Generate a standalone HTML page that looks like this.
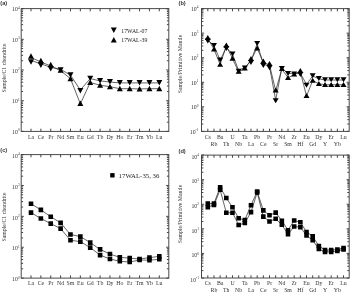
<!DOCTYPE html>
<html><head><meta charset="utf-8"><style>html,body{margin:0;padding:0;background:#fff;width:350px;height:293px;overflow:hidden}svg{display:block}</style></head>
<body>
<svg width="350" height="293" viewBox="0 0 350 293">
<style>.t{font-family:"Liberation Serif", serif;font-size:5.8px;fill:#333}.s{font-size:3.4px}.L{font-family:"Liberation Sans",sans-serif;font-size:5.7px;font-weight:bold;fill:#333}.g{font-family:"Liberation Serif", serif;font-size:5.8px;fill:#222}</style>
<rect width="350" height="293" fill="#fff"/>
<defs><filter id="bl" x="0" y="0" width="1" height="1"><feGaussianBlur stdDeviation="0.55"/></filter></defs><g filter="url(#bl)">
<rect x="21.2" y="8.6" width="147.60000000000002" height="122.80000000000001" fill="none" stroke="#4a4a4a" stroke-width="1.0"/>
<path d="M31.00 8.6v2.7M31.00 131.4v-2.7M40.87 8.6v2.7M40.87 131.4v-2.7M50.74 8.6v2.7M50.74 131.4v-2.7M60.61 8.6v2.7M60.61 131.4v-2.7M70.48 8.6v2.7M70.48 131.4v-2.7M80.35 8.6v2.7M80.35 131.4v-2.7M90.22 8.6v2.7M90.22 131.4v-2.7M100.09 8.6v2.7M100.09 131.4v-2.7M109.96 8.6v2.7M109.96 131.4v-2.7M119.83 8.6v2.7M119.83 131.4v-2.7M129.70 8.6v2.7M129.70 131.4v-2.7M139.57 8.6v2.7M139.57 131.4v-2.7M149.44 8.6v2.7M149.44 131.4v-2.7M159.31 8.6v2.7M159.31 131.4v-2.7M21.2 131.40h2.6M168.8 131.40h-2.6M21.2 122.16h1.9M168.8 122.16h-1.9M21.2 116.75h1.9M168.8 116.75h-1.9M21.2 112.92h1.9M168.8 112.92h-1.9M21.2 109.94h1.9M168.8 109.94h-1.9M21.2 107.51h1.9M168.8 107.51h-1.9M21.2 105.46h1.9M168.8 105.46h-1.9M21.2 103.68h1.9M168.8 103.68h-1.9M21.2 102.10h1.9M168.8 102.10h-1.9M21.2 100.70h2.6M168.8 100.70h-2.6M21.2 91.46h1.9M168.8 91.46h-1.9M21.2 86.05h1.9M168.8 86.05h-1.9M21.2 82.22h1.9M168.8 82.22h-1.9M21.2 79.24h1.9M168.8 79.24h-1.9M21.2 76.81h1.9M168.8 76.81h-1.9M21.2 74.76h1.9M168.8 74.76h-1.9M21.2 72.98h1.9M168.8 72.98h-1.9M21.2 71.40h1.9M168.8 71.40h-1.9M21.2 70.00h2.6M168.8 70.00h-2.6M21.2 60.76h1.9M168.8 60.76h-1.9M21.2 55.35h1.9M168.8 55.35h-1.9M21.2 51.52h1.9M168.8 51.52h-1.9M21.2 48.54h1.9M168.8 48.54h-1.9M21.2 46.11h1.9M168.8 46.11h-1.9M21.2 44.06h1.9M168.8 44.06h-1.9M21.2 42.28h1.9M168.8 42.28h-1.9M21.2 40.70h1.9M168.8 40.70h-1.9M21.2 39.30h2.6M168.8 39.30h-2.6M21.2 30.06h1.9M168.8 30.06h-1.9M21.2 24.65h1.9M168.8 24.65h-1.9M21.2 20.82h1.9M168.8 20.82h-1.9M21.2 17.84h1.9M168.8 17.84h-1.9M21.2 15.41h1.9M168.8 15.41h-1.9M21.2 13.36h1.9M168.8 13.36h-1.9M21.2 11.58h1.9M168.8 11.58h-1.9M21.2 10.00h1.9M168.8 10.00h-1.9M21.2 8.60h2.6M168.8 8.60h-2.6" stroke="#444" stroke-width="1.0" fill="none"/>
<text x="19.599999999999998" y="134.00" text-anchor="end" class="t">10<tspan class="s" dy="-2.7">0</tspan></text>
<text x="19.599999999999998" y="103.30" text-anchor="end" class="t">10<tspan class="s" dy="-2.7">1</tspan></text>
<text x="19.599999999999998" y="72.60" text-anchor="end" class="t">10<tspan class="s" dy="-2.7">2</tspan></text>
<text x="19.599999999999998" y="41.90" text-anchor="end" class="t">10<tspan class="s" dy="-2.7">3</tspan></text>
<text x="19.599999999999998" y="11.20" text-anchor="end" class="t">10<tspan class="s" dy="-2.7">4</tspan></text>
<text x="31.00" y="138.60" text-anchor="middle" class="t">La</text>
<text x="40.87" y="138.60" text-anchor="middle" class="t">Ce</text>
<text x="50.74" y="138.60" text-anchor="middle" class="t">Pr</text>
<text x="60.61" y="138.60" text-anchor="middle" class="t">Nd</text>
<text x="70.48" y="138.60" text-anchor="middle" class="t">Sm</text>
<text x="80.35" y="138.60" text-anchor="middle" class="t">Eu</text>
<text x="90.22" y="138.60" text-anchor="middle" class="t">Gd</text>
<text x="100.09" y="138.60" text-anchor="middle" class="t">Tb</text>
<text x="109.96" y="138.60" text-anchor="middle" class="t">Dy</text>
<text x="119.83" y="138.60" text-anchor="middle" class="t">Ho</text>
<text x="129.70" y="138.60" text-anchor="middle" class="t">Er</text>
<text x="139.57" y="138.60" text-anchor="middle" class="t">Tm</text>
<text x="149.44" y="138.60" text-anchor="middle" class="t">Yb</text>
<text x="159.31" y="138.60" text-anchor="middle" class="t">Lu</text>
<text transform="translate(6.0,68) rotate(-90)" text-anchor="middle" class="t">Sample/C1 chondrite</text>
<text x="0.3" y="5.2" class="L">(a)</text>
<polyline points="31.00,60.50 40.87,63.80 50.74,67.35 60.61,69.30 70.48,75.20 80.35,90.00 90.22,78.60 100.09,80.90 109.96,82.00 119.83,82.90 129.70,82.90 139.57,82.90 149.44,82.90 159.31,82.90" fill="none" stroke="#222" stroke-width="0.7"/>
<polyline points="31.00,57.50 40.87,62.00 50.74,65.95 60.61,70.70 70.48,78.70 80.35,103.90 90.22,82.50 100.09,85.20 109.96,86.70 119.83,88.70 129.70,88.70 139.57,88.90 149.44,88.70 159.31,88.70" fill="none" stroke="#222" stroke-width="0.7"/>
<path d="M28.00 59.30L31.00 64.70L34.00 59.30ZM37.87 62.60L40.87 68.00L43.87 62.60ZM47.74 66.10L50.74 71.50L53.74 66.10ZM57.61 67.30L60.61 72.70L63.61 67.30ZM67.48 72.30L70.48 77.70L73.48 72.30ZM77.35 88.00L80.35 93.40L83.35 88.00ZM87.22 75.70L90.22 81.10L93.22 75.70ZM97.09 78.00L100.09 83.40L103.09 78.00ZM106.96 79.10L109.96 84.50L112.96 79.10ZM116.83 80.00L119.83 85.40L122.83 80.00ZM126.70 80.00L129.70 85.40L132.70 80.00ZM136.57 80.00L139.57 85.40L142.57 80.00ZM146.44 80.00L149.44 85.40L152.44 80.00ZM156.31 80.00L159.31 85.40L162.31 80.00Z" fill="#000"/>
<path d="M28.00 58.70L31.00 53.30L34.00 58.70ZM37.87 63.20L40.87 57.80L43.87 63.20ZM47.74 67.20L50.74 61.80L53.74 67.20ZM57.61 72.70L60.61 67.30L63.61 72.70ZM67.48 81.20L70.48 75.80L73.48 81.20ZM77.35 105.90L80.35 100.50L83.35 105.90ZM87.22 85.00L90.22 79.60L93.22 85.00ZM97.09 87.70L100.09 82.30L103.09 87.70ZM106.96 89.20L109.96 83.80L112.96 89.20ZM116.83 91.20L119.83 85.80L122.83 91.20ZM126.70 91.20L129.70 85.80L132.70 91.20ZM136.57 91.40L139.57 86.00L142.57 91.40ZM146.44 91.20L149.44 85.80L152.44 91.20ZM156.31 91.20L159.31 85.80L162.31 91.20Z" fill="#000"/>
<path d="M110.80 27.60L113.80 33.00L116.80 27.60ZM110.80 42.50L113.80 37.10L116.80 42.50Z" fill="#000"/>
<text x="121.3" y="32.7" class="g">17WAL-07</text>
<text x="121.3" y="42.2" class="g">17WAL-39</text>
<rect x="201.5" y="8.6" width="147.7" height="122.80000000000001" fill="none" stroke="#4a4a4a" stroke-width="1.0"/>
<path d="M207.80 8.6v2.7M207.80 131.4v-2.7M213.97 8.6v2.7M213.97 131.4v-2.7M220.14 8.6v2.7M220.14 131.4v-2.7M226.31 8.6v2.7M226.31 131.4v-2.7M232.48 8.6v2.7M232.48 131.4v-2.7M238.65 8.6v2.7M238.65 131.4v-2.7M244.82 8.6v2.7M244.82 131.4v-2.7M250.99 8.6v2.7M250.99 131.4v-2.7M257.16 8.6v2.7M257.16 131.4v-2.7M263.33 8.6v2.7M263.33 131.4v-2.7M269.50 8.6v2.7M269.50 131.4v-2.7M275.67 8.6v2.7M275.67 131.4v-2.7M281.84 8.6v2.7M281.84 131.4v-2.7M288.01 8.6v2.7M288.01 131.4v-2.7M294.18 8.6v2.7M294.18 131.4v-2.7M300.35 8.6v2.7M300.35 131.4v-2.7M306.52 8.6v2.7M306.52 131.4v-2.7M312.69 8.6v2.7M312.69 131.4v-2.7M318.86 8.6v2.7M318.86 131.4v-2.7M325.03 8.6v2.7M325.03 131.4v-2.7M331.20 8.6v2.7M331.20 131.4v-2.7M337.37 8.6v2.7M337.37 131.4v-2.7M343.54 8.6v2.7M343.54 131.4v-2.7M201.5 131.40h2.6M349.2 131.40h-2.6M201.5 124.01h1.9M349.2 124.01h-1.9M201.5 119.68h1.9M349.2 119.68h-1.9M201.5 116.61h1.9M349.2 116.61h-1.9M201.5 114.23h1.9M349.2 114.23h-1.9M201.5 112.29h1.9M349.2 112.29h-1.9M201.5 110.64h1.9M349.2 110.64h-1.9M201.5 109.22h1.9M349.2 109.22h-1.9M201.5 107.96h1.9M349.2 107.96h-1.9M201.5 106.84h2.6M349.2 106.84h-2.6M201.5 99.45h1.9M349.2 99.45h-1.9M201.5 95.12h1.9M349.2 95.12h-1.9M201.5 92.05h1.9M349.2 92.05h-1.9M201.5 89.67h1.9M349.2 89.67h-1.9M201.5 87.73h1.9M349.2 87.73h-1.9M201.5 86.08h1.9M349.2 86.08h-1.9M201.5 84.66h1.9M349.2 84.66h-1.9M201.5 83.40h1.9M349.2 83.40h-1.9M201.5 82.28h2.6M349.2 82.28h-2.6M201.5 74.89h1.9M349.2 74.89h-1.9M201.5 70.56h1.9M349.2 70.56h-1.9M201.5 67.49h1.9M349.2 67.49h-1.9M201.5 65.11h1.9M349.2 65.11h-1.9M201.5 63.17h1.9M349.2 63.17h-1.9M201.5 61.52h1.9M349.2 61.52h-1.9M201.5 60.10h1.9M349.2 60.10h-1.9M201.5 58.84h1.9M349.2 58.84h-1.9M201.5 57.72h2.6M349.2 57.72h-2.6M201.5 50.33h1.9M349.2 50.33h-1.9M201.5 46.00h1.9M349.2 46.00h-1.9M201.5 42.93h1.9M349.2 42.93h-1.9M201.5 40.55h1.9M349.2 40.55h-1.9M201.5 38.61h1.9M349.2 38.61h-1.9M201.5 36.96h1.9M349.2 36.96h-1.9M201.5 35.54h1.9M349.2 35.54h-1.9M201.5 34.28h1.9M349.2 34.28h-1.9M201.5 33.16h2.6M349.2 33.16h-2.6M201.5 25.77h1.9M349.2 25.77h-1.9M201.5 21.44h1.9M349.2 21.44h-1.9M201.5 18.37h1.9M349.2 18.37h-1.9M201.5 15.99h1.9M349.2 15.99h-1.9M201.5 14.05h1.9M349.2 14.05h-1.9M201.5 12.40h1.9M349.2 12.40h-1.9M201.5 10.98h1.9M349.2 10.98h-1.9M201.5 9.72h1.9M349.2 9.72h-1.9M201.5 8.60h2.6M349.2 8.60h-2.6" stroke="#444" stroke-width="1.0" fill="none"/>
<text x="198.4" y="133.80" text-anchor="end" class="t">10<tspan class="s" dy="-2.7">-1</tspan></text>
<text x="198.4" y="109.24" text-anchor="end" class="t">10<tspan class="s" dy="-2.7">0</tspan></text>
<text x="198.4" y="84.68" text-anchor="end" class="t">10<tspan class="s" dy="-2.7">1</tspan></text>
<text x="198.4" y="60.12" text-anchor="end" class="t">10<tspan class="s" dy="-2.7">2</tspan></text>
<text x="198.4" y="35.56" text-anchor="end" class="t">10<tspan class="s" dy="-2.7">3</tspan></text>
<text x="198.4" y="11.00" text-anchor="end" class="t">10<tspan class="s" dy="-2.7">4</tspan></text>
<text x="207.80" y="138.60" text-anchor="middle" class="t">Cs</text>
<text x="213.97" y="145.80" text-anchor="middle" class="t">Rb</text>
<text x="220.14" y="138.60" text-anchor="middle" class="t">Ba</text>
<text x="226.31" y="145.80" text-anchor="middle" class="t">Th</text>
<text x="232.48" y="138.60" text-anchor="middle" class="t">U</text>
<text x="238.65" y="145.80" text-anchor="middle" class="t">Nb</text>
<text x="244.82" y="138.60" text-anchor="middle" class="t">Ta</text>
<text x="250.99" y="145.80" text-anchor="middle" class="t">La</text>
<text x="257.16" y="138.60" text-anchor="middle" class="t">Pb</text>
<text x="263.33" y="145.80" text-anchor="middle" class="t">Ce</text>
<text x="269.50" y="138.60" text-anchor="middle" class="t">Pr</text>
<text x="275.67" y="145.80" text-anchor="middle" class="t">Sr</text>
<text x="281.84" y="138.60" text-anchor="middle" class="t">Nd</text>
<text x="288.01" y="145.80" text-anchor="middle" class="t">Sm</text>
<text x="294.18" y="138.60" text-anchor="middle" class="t">Zr</text>
<text x="300.35" y="145.80" text-anchor="middle" class="t">Hf</text>
<text x="306.52" y="138.60" text-anchor="middle" class="t">Eu</text>
<text x="312.69" y="145.80" text-anchor="middle" class="t">Gd</text>
<text x="318.86" y="138.60" text-anchor="middle" class="t">Dy</text>
<text x="325.03" y="145.80" text-anchor="middle" class="t">Y</text>
<text x="331.20" y="138.60" text-anchor="middle" class="t">Er</text>
<text x="337.37" y="145.80" text-anchor="middle" class="t">Yb</text>
<text x="343.54" y="138.60" text-anchor="middle" class="t">Lu</text>
<text transform="translate(182.4,64) rotate(-90)" text-anchor="middle" class="t">Sample/Primitive Mantle</text>
<text x="178.5" y="5.4" class="L">(b)</text>
<polyline points="207.80,39.95 213.97,45.70 220.14,60.20 226.31,47.45 232.48,54.20 238.65,70.50 244.82,67.30 250.99,61.20 257.16,43.70 263.33,64.00 269.50,66.30 275.67,100.10 281.84,67.80 288.01,73.70 294.18,73.30 300.35,73.20 306.52,84.50 312.69,76.00 318.86,78.80 325.03,80.00 331.20,80.00 337.37,80.00 343.54,80.00" fill="none" stroke="#222" stroke-width="0.7"/>
<polyline points="207.80,38.55 213.97,49.20 220.14,64.50 226.31,46.05 232.48,58.50 238.65,71.90 244.82,68.70 250.99,59.80 257.16,48.20 263.33,62.50 269.50,64.90 275.67,90.70 281.84,69.20 288.01,77.70 294.18,74.70 300.35,71.80 306.52,96.10 312.69,80.50 318.86,83.80 325.03,84.70 331.20,84.70 337.37,84.70 343.54,84.70" fill="none" stroke="#222" stroke-width="0.7"/>
<path d="M204.80 38.50L207.80 43.50L210.80 38.50ZM210.97 43.00L213.97 48.00L216.97 43.00ZM217.14 57.50L220.14 62.50L223.14 57.50ZM223.31 46.00L226.31 51.00L229.31 46.00ZM229.48 51.50L232.48 56.50L235.48 51.50ZM235.65 68.70L238.65 73.70L241.65 68.70ZM241.82 65.50L244.82 70.50L247.82 65.50ZM247.99 60.00L250.99 65.00L253.99 60.00ZM254.16 41.00L257.16 46.00L260.16 41.00ZM260.33 63.00L263.33 68.00L266.33 63.00ZM266.50 65.20L269.50 70.20L272.50 65.20ZM272.67 98.30L275.67 103.30L278.67 98.30ZM278.84 66.00L281.84 71.00L284.84 66.00ZM285.01 71.00L288.01 76.00L291.01 71.00ZM291.18 71.50L294.18 76.50L297.18 71.50ZM297.35 72.00L300.35 77.00L303.35 72.00ZM303.52 82.70L306.52 87.70L309.52 82.70ZM309.69 73.30L312.69 78.30L315.69 73.30ZM315.86 76.10L318.86 81.10L321.86 76.10ZM322.03 77.30L325.03 82.30L328.03 77.30ZM328.20 77.30L331.20 82.30L334.20 77.30ZM334.37 77.30L337.37 82.30L340.37 77.30ZM340.54 77.30L343.54 82.30L346.54 77.30Z" fill="#000"/>
<path d="M204.80 40.00L207.80 35.00L210.80 40.00ZM210.97 51.50L213.97 46.50L216.97 51.50ZM217.14 66.80L220.14 61.80L223.14 66.80ZM223.31 47.50L226.31 42.50L229.31 47.50ZM229.48 60.80L232.48 55.80L235.48 60.80ZM235.65 73.70L238.65 68.70L241.65 73.70ZM241.82 70.50L244.82 65.50L247.82 70.50ZM247.99 61.00L250.99 56.00L253.99 61.00ZM254.16 50.50L257.16 45.50L260.16 50.50ZM260.33 63.50L263.33 58.50L266.33 63.50ZM266.50 66.00L269.50 61.00L272.50 66.00ZM272.67 92.50L275.67 87.50L278.67 92.50ZM278.84 71.00L281.84 66.00L284.84 71.00ZM285.01 80.00L288.01 75.00L291.01 80.00ZM291.18 76.50L294.18 71.50L297.18 76.50ZM297.35 73.00L300.35 68.00L303.35 73.00ZM303.52 97.90L306.52 92.90L309.52 97.90ZM309.69 82.80L312.69 77.80L315.69 82.80ZM315.86 86.10L318.86 81.10L321.86 86.10ZM322.03 87.00L325.03 82.00L328.03 87.00ZM328.20 87.00L331.20 82.00L334.20 87.00ZM334.37 87.00L337.37 82.00L340.37 87.00ZM340.54 87.00L343.54 82.00L346.54 87.00Z" fill="#000"/>
<rect x="21.2" y="154.6" width="147.60000000000002" height="123.50000000000003" fill="none" stroke="#4a4a4a" stroke-width="1.0"/>
<path d="M31.00 154.6v2.7M31.00 278.1v-2.7M40.87 154.6v2.7M40.87 278.1v-2.7M50.74 154.6v2.7M50.74 278.1v-2.7M60.61 154.6v2.7M60.61 278.1v-2.7M70.48 154.6v2.7M70.48 278.1v-2.7M80.35 154.6v2.7M80.35 278.1v-2.7M90.22 154.6v2.7M90.22 278.1v-2.7M100.09 154.6v2.7M100.09 278.1v-2.7M109.96 154.6v2.7M109.96 278.1v-2.7M119.83 154.6v2.7M119.83 278.1v-2.7M129.70 154.6v2.7M129.70 278.1v-2.7M139.57 154.6v2.7M139.57 278.1v-2.7M149.44 154.6v2.7M149.44 278.1v-2.7M159.31 154.6v2.7M159.31 278.1v-2.7M21.2 278.10h2.6M168.8 278.10h-2.6M21.2 268.81h1.9M168.8 268.81h-1.9M21.2 263.37h1.9M168.8 263.37h-1.9M21.2 259.51h1.9M168.8 259.51h-1.9M21.2 256.52h1.9M168.8 256.52h-1.9M21.2 254.07h1.9M168.8 254.07h-1.9M21.2 252.01h1.9M168.8 252.01h-1.9M21.2 250.22h1.9M168.8 250.22h-1.9M21.2 248.64h1.9M168.8 248.64h-1.9M21.2 247.23h2.6M168.8 247.23h-2.6M21.2 237.93h1.9M168.8 237.93h-1.9M21.2 232.49h1.9M168.8 232.49h-1.9M21.2 228.64h1.9M168.8 228.64h-1.9M21.2 225.64h1.9M168.8 225.64h-1.9M21.2 223.20h1.9M168.8 223.20h-1.9M21.2 221.13h1.9M168.8 221.13h-1.9M21.2 219.34h1.9M168.8 219.34h-1.9M21.2 217.76h1.9M168.8 217.76h-1.9M21.2 216.35h2.6M168.8 216.35h-2.6M21.2 207.06h1.9M168.8 207.06h-1.9M21.2 201.62h1.9M168.8 201.62h-1.9M21.2 197.76h1.9M168.8 197.76h-1.9M21.2 194.77h1.9M168.8 194.77h-1.9M21.2 192.32h1.9M168.8 192.32h-1.9M21.2 190.26h1.9M168.8 190.26h-1.9M21.2 188.47h1.9M168.8 188.47h-1.9M21.2 186.89h1.9M168.8 186.89h-1.9M21.2 185.47h2.6M168.8 185.47h-2.6M21.2 176.18h1.9M168.8 176.18h-1.9M21.2 170.74h1.9M168.8 170.74h-1.9M21.2 166.89h1.9M168.8 166.89h-1.9M21.2 163.89h1.9M168.8 163.89h-1.9M21.2 161.45h1.9M168.8 161.45h-1.9M21.2 159.38h1.9M168.8 159.38h-1.9M21.2 157.59h1.9M168.8 157.59h-1.9M21.2 156.01h1.9M168.8 156.01h-1.9M21.2 154.60h2.6M168.8 154.60h-2.6" stroke="#444" stroke-width="1.0" fill="none"/>
<text x="19.599999999999998" y="281.30" text-anchor="end" class="t">10<tspan class="s" dy="-2.7">0</tspan></text>
<text x="19.599999999999998" y="250.43" text-anchor="end" class="t">10<tspan class="s" dy="-2.7">1</tspan></text>
<text x="19.599999999999998" y="219.55" text-anchor="end" class="t">10<tspan class="s" dy="-2.7">2</tspan></text>
<text x="19.599999999999998" y="188.67" text-anchor="end" class="t">10<tspan class="s" dy="-2.7">3</tspan></text>
<text x="19.599999999999998" y="157.80" text-anchor="end" class="t">10<tspan class="s" dy="-2.7">4</tspan></text>
<text x="31.00" y="285.30" text-anchor="middle" class="t">La</text>
<text x="40.87" y="285.30" text-anchor="middle" class="t">Ce</text>
<text x="50.74" y="285.30" text-anchor="middle" class="t">Pr</text>
<text x="60.61" y="285.30" text-anchor="middle" class="t">Nd</text>
<text x="70.48" y="285.30" text-anchor="middle" class="t">Sm</text>
<text x="80.35" y="285.30" text-anchor="middle" class="t">Eu</text>
<text x="90.22" y="285.30" text-anchor="middle" class="t">Gd</text>
<text x="100.09" y="285.30" text-anchor="middle" class="t">Tb</text>
<text x="109.96" y="285.30" text-anchor="middle" class="t">Dy</text>
<text x="119.83" y="285.30" text-anchor="middle" class="t">Ho</text>
<text x="129.70" y="285.30" text-anchor="middle" class="t">Er</text>
<text x="139.57" y="285.30" text-anchor="middle" class="t">Tm</text>
<text x="149.44" y="285.30" text-anchor="middle" class="t">Yb</text>
<text x="159.31" y="285.30" text-anchor="middle" class="t">Lu</text>
<text transform="translate(6.0,217) rotate(-90)" text-anchor="middle" class="t">Sample/C1 chondrite</text>
<text x="0.3" y="152.4" class="L">(c)</text>
<polyline points="31.00,203.70 40.87,209.90 50.74,216.70 60.61,222.90 70.48,234.50 80.35,236.60 90.22,242.60 100.09,249.40 109.96,254.00 119.83,257.40 129.70,258.10 139.57,259.00 149.44,257.60 159.31,256.40" fill="none" stroke="#222" stroke-width="0.7"/>
<polyline points="31.00,212.60 40.87,218.50 50.74,223.60 60.61,228.60 70.48,240.30 80.35,241.60 90.22,247.60 100.09,255.10 109.96,259.00 119.83,261.30 129.70,262.00 139.57,260.00 149.44,260.20 159.31,259.30" fill="none" stroke="#222" stroke-width="0.7"/>
<path d="M28.70 201.40h4.6v4.6h-4.6ZM38.57 207.60h4.6v4.6h-4.6ZM48.44 214.40h4.6v4.6h-4.6ZM58.31 220.60h4.6v4.6h-4.6ZM68.18 232.20h4.6v4.6h-4.6ZM78.05 234.30h4.6v4.6h-4.6ZM87.92 240.30h4.6v4.6h-4.6ZM97.79 247.10h4.6v4.6h-4.6ZM107.66 251.70h4.6v4.6h-4.6ZM117.53 255.10h4.6v4.6h-4.6ZM127.40 255.80h4.6v4.6h-4.6ZM137.27 256.70h4.6v4.6h-4.6ZM147.14 255.30h4.6v4.6h-4.6ZM157.01 254.10h4.6v4.6h-4.6Z" fill="#000"/>
<path d="M28.70 210.30h4.6v4.6h-4.6ZM38.57 216.20h4.6v4.6h-4.6ZM48.44 221.30h4.6v4.6h-4.6ZM58.31 226.30h4.6v4.6h-4.6ZM68.18 238.00h4.6v4.6h-4.6ZM78.05 239.30h4.6v4.6h-4.6ZM87.92 245.30h4.6v4.6h-4.6ZM97.79 252.80h4.6v4.6h-4.6ZM107.66 256.70h4.6v4.6h-4.6ZM117.53 259.00h4.6v4.6h-4.6ZM127.40 259.70h4.6v4.6h-4.6ZM137.27 257.70h4.6v4.6h-4.6ZM147.14 257.90h4.6v4.6h-4.6ZM157.01 257.00h4.6v4.6h-4.6Z" fill="#000"/>
<path d="M110.20 173.10h4.4v4.4h-4.4Z" fill="#000"/>
<text x="118.6" y="177.9" class="g" style="font-size:6.8px">17WAL-35, 36</text>
<rect x="201.5" y="155.1" width="147.7" height="122.9" fill="none" stroke="#4a4a4a" stroke-width="1.0"/>
<path d="M207.80 155.1v2.7M207.80 278.0v-2.7M213.97 155.1v2.7M213.97 278.0v-2.7M220.14 155.1v2.7M220.14 278.0v-2.7M226.31 155.1v2.7M226.31 278.0v-2.7M232.48 155.1v2.7M232.48 278.0v-2.7M238.65 155.1v2.7M238.65 278.0v-2.7M244.82 155.1v2.7M244.82 278.0v-2.7M250.99 155.1v2.7M250.99 278.0v-2.7M257.16 155.1v2.7M257.16 278.0v-2.7M263.33 155.1v2.7M263.33 278.0v-2.7M269.50 155.1v2.7M269.50 278.0v-2.7M275.67 155.1v2.7M275.67 278.0v-2.7M281.84 155.1v2.7M281.84 278.0v-2.7M288.01 155.1v2.7M288.01 278.0v-2.7M294.18 155.1v2.7M294.18 278.0v-2.7M300.35 155.1v2.7M300.35 278.0v-2.7M306.52 155.1v2.7M306.52 278.0v-2.7M312.69 155.1v2.7M312.69 278.0v-2.7M318.86 155.1v2.7M318.86 278.0v-2.7M325.03 155.1v2.7M325.03 278.0v-2.7M331.20 155.1v2.7M331.20 278.0v-2.7M337.37 155.1v2.7M337.37 278.0v-2.7M343.54 155.1v2.7M343.54 278.0v-2.7M201.5 278.00h2.6M349.2 278.00h-2.6M201.5 270.60h1.9M349.2 270.60h-1.9M201.5 266.27h1.9M349.2 266.27h-1.9M201.5 263.20h1.9M349.2 263.20h-1.9M201.5 260.82h1.9M349.2 260.82h-1.9M201.5 258.87h1.9M349.2 258.87h-1.9M201.5 257.23h1.9M349.2 257.23h-1.9M201.5 255.80h1.9M349.2 255.80h-1.9M201.5 254.54h1.9M349.2 254.54h-1.9M201.5 253.42h2.6M349.2 253.42h-2.6M201.5 246.02h1.9M349.2 246.02h-1.9M201.5 241.69h1.9M349.2 241.69h-1.9M201.5 238.62h1.9M349.2 238.62h-1.9M201.5 236.24h1.9M349.2 236.24h-1.9M201.5 234.29h1.9M349.2 234.29h-1.9M201.5 232.65h1.9M349.2 232.65h-1.9M201.5 231.22h1.9M349.2 231.22h-1.9M201.5 229.96h1.9M349.2 229.96h-1.9M201.5 228.84h2.6M349.2 228.84h-2.6M201.5 221.44h1.9M349.2 221.44h-1.9M201.5 217.11h1.9M349.2 217.11h-1.9M201.5 214.04h1.9M349.2 214.04h-1.9M201.5 211.66h1.9M349.2 211.66h-1.9M201.5 209.71h1.9M349.2 209.71h-1.9M201.5 208.07h1.9M349.2 208.07h-1.9M201.5 206.64h1.9M349.2 206.64h-1.9M201.5 205.38h1.9M349.2 205.38h-1.9M201.5 204.26h2.6M349.2 204.26h-2.6M201.5 196.86h1.9M349.2 196.86h-1.9M201.5 192.53h1.9M349.2 192.53h-1.9M201.5 189.46h1.9M349.2 189.46h-1.9M201.5 187.08h1.9M349.2 187.08h-1.9M201.5 185.13h1.9M349.2 185.13h-1.9M201.5 183.49h1.9M349.2 183.49h-1.9M201.5 182.06h1.9M349.2 182.06h-1.9M201.5 180.80h1.9M349.2 180.80h-1.9M201.5 179.68h2.6M349.2 179.68h-2.6M201.5 172.28h1.9M349.2 172.28h-1.9M201.5 167.95h1.9M349.2 167.95h-1.9M201.5 164.88h1.9M349.2 164.88h-1.9M201.5 162.50h1.9M349.2 162.50h-1.9M201.5 160.55h1.9M349.2 160.55h-1.9M201.5 158.91h1.9M349.2 158.91h-1.9M201.5 157.48h1.9M349.2 157.48h-1.9M201.5 156.22h1.9M349.2 156.22h-1.9M201.5 155.10h2.6M349.2 155.10h-2.6" stroke="#444" stroke-width="1.0" fill="none"/>
<text x="198.9" y="281.80" text-anchor="end" class="t">10<tspan class="s" dy="-2.7">-1</tspan></text>
<text x="198.9" y="257.22" text-anchor="end" class="t">10<tspan class="s" dy="-2.7">0</tspan></text>
<text x="198.9" y="232.64" text-anchor="end" class="t">10<tspan class="s" dy="-2.7">1</tspan></text>
<text x="198.9" y="208.06" text-anchor="end" class="t">10<tspan class="s" dy="-2.7">2</tspan></text>
<text x="198.9" y="183.48" text-anchor="end" class="t">10<tspan class="s" dy="-2.7">3</tspan></text>
<text x="198.9" y="158.90" text-anchor="end" class="t">10<tspan class="s" dy="-2.7">4</tspan></text>
<text x="207.80" y="285.20" text-anchor="middle" class="t">Cs</text>
<text x="213.97" y="292.40" text-anchor="middle" class="t">Rb</text>
<text x="220.14" y="285.20" text-anchor="middle" class="t">Ba</text>
<text x="226.31" y="292.40" text-anchor="middle" class="t">Th</text>
<text x="232.48" y="285.20" text-anchor="middle" class="t">U</text>
<text x="238.65" y="292.40" text-anchor="middle" class="t">Nb</text>
<text x="244.82" y="285.20" text-anchor="middle" class="t">Ta</text>
<text x="250.99" y="292.40" text-anchor="middle" class="t">La</text>
<text x="257.16" y="285.20" text-anchor="middle" class="t">Pb</text>
<text x="263.33" y="292.40" text-anchor="middle" class="t">Ce</text>
<text x="269.50" y="285.20" text-anchor="middle" class="t">Pr</text>
<text x="275.67" y="292.40" text-anchor="middle" class="t">Sr</text>
<text x="281.84" y="285.20" text-anchor="middle" class="t">Nd</text>
<text x="288.01" y="292.40" text-anchor="middle" class="t">Sm</text>
<text x="294.18" y="285.20" text-anchor="middle" class="t">Zr</text>
<text x="300.35" y="292.40" text-anchor="middle" class="t">Hf</text>
<text x="306.52" y="285.20" text-anchor="middle" class="t">Eu</text>
<text x="312.69" y="292.40" text-anchor="middle" class="t">Gd</text>
<text x="318.86" y="285.20" text-anchor="middle" class="t">Dy</text>
<text x="325.03" y="292.40" text-anchor="middle" class="t">Y</text>
<text x="331.20" y="285.20" text-anchor="middle" class="t">Er</text>
<text x="337.37" y="292.40" text-anchor="middle" class="t">Yb</text>
<text x="343.54" y="285.20" text-anchor="middle" class="t">Lu</text>
<text transform="translate(182.4,214) rotate(-90)" text-anchor="middle" class="t">Sample/Primitive Mantle</text>
<text x="178.5" y="152.6" class="L">(d)</text>
<polyline points="207.80,203.50 213.97,203.50 220.14,187.20 226.31,198.00 232.48,207.20 238.65,218.30 244.82,220.00 250.99,205.20 257.16,191.50 263.33,210.40 269.50,215.30 275.67,212.60 281.84,220.70 288.01,230.20 294.18,220.50 300.35,222.30 306.52,232.00 312.69,236.30 318.86,246.00 325.03,250.00 331.20,250.00 337.37,249.50 343.54,248.00" fill="none" stroke="#222" stroke-width="0.7"/>
<polyline points="207.80,207.20 213.97,205.00 220.14,189.80 226.31,212.70 232.48,212.70 238.65,225.00 244.82,223.00 250.99,212.10 257.16,192.50 263.33,216.60 269.50,221.50 275.67,218.80 281.84,224.80 288.01,234.30 294.18,226.50 300.35,227.20 306.52,235.50 312.69,240.20 318.86,249.00 325.03,252.00 331.20,252.00 337.37,251.00 343.54,249.50" fill="none" stroke="#222" stroke-width="0.7"/>
<path d="M205.50 201.20h4.6v4.6h-4.6ZM211.67 201.20h4.6v4.6h-4.6ZM217.84 184.90h4.6v4.6h-4.6ZM224.01 195.70h4.6v4.6h-4.6ZM230.18 204.90h4.6v4.6h-4.6ZM236.35 216.00h4.6v4.6h-4.6ZM242.52 217.70h4.6v4.6h-4.6ZM248.69 202.90h4.6v4.6h-4.6ZM254.86 189.20h4.6v4.6h-4.6ZM261.03 208.10h4.6v4.6h-4.6ZM267.20 213.00h4.6v4.6h-4.6ZM273.37 210.30h4.6v4.6h-4.6ZM279.54 218.40h4.6v4.6h-4.6ZM285.71 227.90h4.6v4.6h-4.6ZM291.88 218.20h4.6v4.6h-4.6ZM298.05 220.00h4.6v4.6h-4.6ZM304.22 229.70h4.6v4.6h-4.6ZM310.39 234.00h4.6v4.6h-4.6ZM316.56 243.70h4.6v4.6h-4.6ZM322.73 247.70h4.6v4.6h-4.6ZM328.90 247.70h4.6v4.6h-4.6ZM335.07 247.20h4.6v4.6h-4.6ZM341.24 245.70h4.6v4.6h-4.6Z" fill="#000"/>
<path d="M205.50 204.90h4.6v4.6h-4.6ZM211.67 202.70h4.6v4.6h-4.6ZM217.84 187.50h4.6v4.6h-4.6ZM224.01 210.40h4.6v4.6h-4.6ZM230.18 210.40h4.6v4.6h-4.6ZM236.35 222.70h4.6v4.6h-4.6ZM242.52 220.70h4.6v4.6h-4.6ZM248.69 209.80h4.6v4.6h-4.6ZM254.86 190.20h4.6v4.6h-4.6ZM261.03 214.30h4.6v4.6h-4.6ZM267.20 219.20h4.6v4.6h-4.6ZM273.37 216.50h4.6v4.6h-4.6ZM279.54 222.50h4.6v4.6h-4.6ZM285.71 232.00h4.6v4.6h-4.6ZM291.88 224.20h4.6v4.6h-4.6ZM298.05 224.90h4.6v4.6h-4.6ZM304.22 233.20h4.6v4.6h-4.6ZM310.39 237.90h4.6v4.6h-4.6ZM316.56 246.70h4.6v4.6h-4.6ZM322.73 249.70h4.6v4.6h-4.6ZM328.90 249.70h4.6v4.6h-4.6ZM335.07 248.70h4.6v4.6h-4.6ZM341.24 247.20h4.6v4.6h-4.6Z" fill="#000"/>
</g></svg>
</body></html>
